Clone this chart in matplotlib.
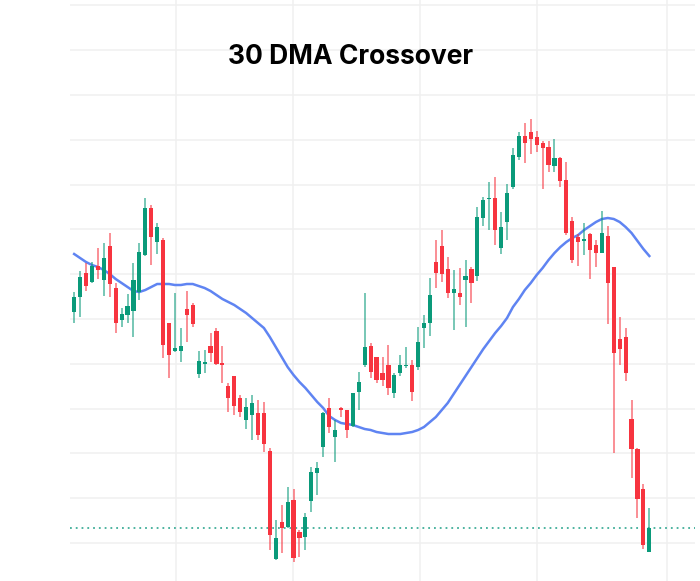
import matplotlib
matplotlib.use("Agg")
import matplotlib.pyplot as plt
import numpy as np

# daily candles (open, high, low, close)
opens = [288, 303, 327, 318, 334, 320, 354, 312, 280, 285,
         289, 308, 345, 392, 358, 360, 277, 249, 249, 291,
         295, 226, 236, 254, 269, 237, 214, 224, 202, 180,
         185, 187, 187, 149, 41, 78, 73, 100, 68, 63,
         99, 127, 153, 192, 163, 192, 190, 174, 208, 235,
         254, 243, 227, 235, 207, 227, 234, 235, 233, 272,
         277, 338, 354, 331, 307, 307, 320, 331, 324, 382,
         401, 402, 352, 378, 413, 443, 464, 468, 463, 457,
         453, 434, 442, 420, 379, 363, 359, 366, 355, 347,
         364, 333, 261, 263, 181, 151, 111, 48]
highs = [308, 329, 337, 338, 352, 357, 367, 317, 292, 306,
         337, 357, 402, 395, 377, 362, 277, 307, 272, 309,
         297, 249, 250, 267, 272, 254, 217, 224, 205, 202,
         205, 200, 198, 152, 80, 95, 113, 111, 70, 87,
         133, 138, 188, 202, 180, 193, 190, 207, 228, 307,
         257, 243, 243, 255, 227, 245, 253, 240, 273, 285,
         322, 360, 370, 343, 330, 332, 340, 333, 393, 403,
         418, 423, 388, 416, 452, 468, 477, 481, 469, 459,
         459, 461, 443, 438, 383, 366, 377, 367, 360, 389,
         374, 333, 283, 272, 200, 152, 116, 92]
lows = [277, 283, 309, 317, 321, 304, 303, 267, 273, 277,
        263, 300, 344, 335, 346, 242, 222, 248, 238, 258,
        273, 222, 227, 238, 235, 217, 188, 185, 183, 171,
        160, 160, 148, 50, 40, 47, 72, 38, 43, 50,
        88, 105, 143, 167, 138, 183, 162, 173, 190, 233,
        222, 217, 214, 205, 202, 224, 232, 199, 230, 252,
        264, 312, 318, 302, 270, 295, 273, 297, 319, 374,
        370, 355, 346, 360, 411, 440, 437, 446, 448, 411,
        428, 428, 413, 365, 337, 334, 345, 321, 333, 347,
        276, 147, 235, 219, 122, 82, 51, 48]
closes = [303, 323, 314, 334, 330, 342, 316, 277, 286, 294,
          320, 348, 392, 363, 373, 255, 245, 252, 254, 285,
          276, 239, 238, 247, 236, 235, 202, 194, 188, 193,
          197, 165, 156, 65, 62, 72, 98, 42, 62, 83,
          128, 132, 187, 173, 170, 190, 170, 207, 218, 253,
          228, 220, 220, 212, 225, 235, 235, 208, 258, 277,
          305, 327, 326, 307, 311, 303, 324, 317, 383, 400,
          402, 370, 373, 407, 445, 464, 457, 461, 455, 452,
          435, 442, 419, 367, 340, 358, 361, 350, 347, 367,
          317, 247, 251, 227, 151, 101, 55, 72]

# 30 day moving average as drawn
dma30 = [346, 342, 338, 335, 333, 330, 326, 321, 317, 313,
         309, 308, 310, 313, 316, 316, 316, 315, 315, 316,
         316, 314, 312, 309, 305, 301, 298, 295, 291, 287,
         282, 277, 272, 263, 253, 243, 233, 225, 218, 212,
         205, 198, 192, 184, 180, 177, 176, 175, 173, 171,
         170, 168, 167, 166, 166, 166, 167, 168, 170, 173,
         178, 183, 190, 197, 206, 215, 224, 233, 242, 251,
         259, 267, 274, 282, 293, 301, 310, 317, 325, 332,
         340, 347, 353, 358, 362, 365, 370, 374, 378, 381,
         382, 381, 378, 373, 367, 359, 351, 344]

# month boundaries (vertical grid)
month_ticks = [17.2, 36.9, 58.3, 78.1, 100.0]

green = "#0a9a7a"
red = "#f7343f"

o = np.array(opens)
h = np.array(highs)
l = np.array(lows)
c = np.array(closes)
x = np.arange(len(o))
up = c >= o
cols = np.where(up, green, red)

fig = plt.figure(figsize=(7, 5.81), dpi=100)
ax = fig.add_axes([70 / 700, 0, 625 / 700, 1])

ax.plot(x, dma30, color="#5f84f2", lw=1.8, zorder=2)
ax.axhline(c[-1], color="#3fae98", lw=1.3, ls=(0, (1, 2.2)), zorder=1)

ax.vlines(x, l, h, colors=cols, lw=1.1, alpha=0.7, zorder=3)
body = np.maximum(np.abs(c - o), 1.5)
ax.bar(x, body, bottom=np.minimum(o, c), width=0.7, color=cols, zorder=4)

ax.set_xlim(-0.7, 104.7)
ax.set_ylim(19, 600)
ax.set_yticks(np.arange(57, 600, 44.8))
ax.set_xticks(month_ticks)
ax.grid(True, color="#f0f0f0", lw=1.1)
ax.set_axisbelow(True)
ax.tick_params(length=0, labelleft=False, labelbottom=False)
for s in ax.spines.values():
    s.set_visible(False)

fig.text(351 / 700, 1 - 57 / 581, "30 DMA Crossover", ha="center", va="center",
         fontsize=19, fontweight="bold", family="Inter", color="black")

fig.savefig("out.png", dpi=100)
